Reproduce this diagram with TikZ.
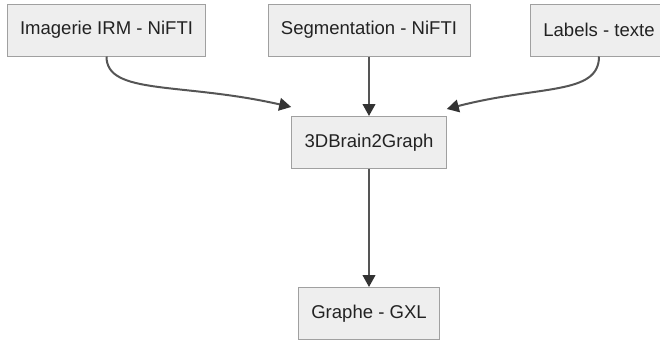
\documentclass[tikz,border=0pt]{standalone}
\usepackage{fontspec}
\setmainfont{Liberation Sans}
\usetikzlibrary{arrows.meta}
\definecolor{boxfill}{HTML}{EEEEEE}
\definecolor{boxline}{HTML}{A0A0A0}
\definecolor{linkline}{HTML}{555555}
\definecolor{tipfill}{HTML}{333333}
\definecolor{txt}{HTML}{222222}

\begin{document}
\begin{tikzpicture}[x=0.75pt,y=0.75pt,yscale=-1,xscale=1,
  box/.style={draw=boxline,fill=boxfill,line width=0.75pt,text=txt,font=\fontsize{13.9}{16}\selectfont,inner xsep=9.7pt,minimum height=39pt},
  link/.style={draw=linkline,line width=1.5pt,-{Triangle[length=9pt,width=9.5pt,color=tipfill]}}]
%set diagram size to 660 x 339
\useasboundingbox (0,0) rectangle (660,339);

%Shape: Rectangle [id:img]
\node [box] (img) at (106.5,30) {Imagerie IRM - NiFTI};
%Shape: Rectangle [id:seg]
\node [box] (seg) at (369,30) {Segmentation - NiFTI};
%Shape: Rectangle [id:lab]
\node [box] (lab) at (599,30) {Labels - texte};
%Shape: Rectangle [id:core]
\node [box] (core) at (369,142.5) {3DBrain2Graph};
%Shape: Rectangle [id:gxl]
\node [box] (gxl) at (369,313.5) {Graphe - GXL};

%Curve Lines [id:img-core]
\draw [link] (img.south) .. controls +(0,39) and +(-110,-25) .. ([yshift=-6.75pt]core.north west) ;
%Straight Lines [id:seg-core]
\draw [link] (seg.south) -- (core.north) ;
%Curve Lines [id:lab-core]
\draw [link] (lab.south) .. controls +(0,39) and +(92,-24) .. ([yshift=-5.25pt]core.north east) ;
%Straight Lines [id:core-gxl]
\draw [link] (core.south) -- (gxl.north) ;

\end{tikzpicture}
\end{document}
